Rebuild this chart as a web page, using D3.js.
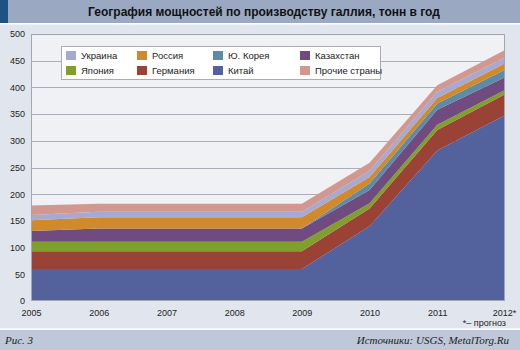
<!DOCTYPE html>
<html>
<head>
<meta charset="utf-8">
<script src="https://cdn.jsdelivr.net/npm/d3@7"></script>
<style>
  html, body { margin: 0; padding: 0; background: #e1e6ee; }
  svg { display: block; }
</style>
</head>
<body>
<svg id="chart" width="520" height="350"></svg>
<script>
// Gallium production capacity by country, tonnes per year
const years = ["2005", "2006", "2007", "2008", "2009", "2010", "2011", "2012*"];
const china      = [60, 60, 60, 60, 60, 140, 282, 348];
const germany    = [33, 33, 33, 33, 33, 33, 38, 39];
const japan      = [18, 18, 18, 18, 18, 10, 10, 8];
const kazakhstan = [20, 25, 25, 25, 25, 25, 28, 24];
const korea      = [0, 0, 0, 0, 0, 12, 12, 14];
const russia     = [20, 21, 21, 21, 21, 12, 10, 12];
const ukraine    = [10, 10, 10, 10, 10, 12, 12, 11];
const others     = [18, 15, 15, 15, 15, 15, 12, 14];
const yTicks = [0, 50, 100, 150, 200, 250, 300, 350, 400, 450, 500];

// stacking order, bottom to top
const series = [
  { key: "china",      name: "Китай",          color: "#53629c", values: china },
  { key: "germany",    name: "Германия",       color: "#9b4236", values: germany },
  { key: "japan",      name: "Япония",         color: "#819f2d", values: japan },
  { key: "kazakhstan", name: "Казахстан",      color: "#6f4b7f", values: kazakhstan },
  { key: "korea",      name: "Ю. Корея",       color: "#5b8ba5", values: korea },
  { key: "russia",     name: "Россия",         color: "#d08a2c", values: russia },
  { key: "ukraine",    name: "Украина",        color: "#a7a9d1", values: ukraine },
  { key: "others",     name: "Прочие страны",  color: "#d29890", values: others }
];
// legend layout order (two rows of four)
const legendOrder = ["ukraine", "russia", "korea", "kazakhstan",
                     "japan", "germany", "china", "others"];

const rows = years.map((y, i) => {
  const r = { year: y };
  series.forEach(s => r[s.key] = s.values[i]);
  return r;
});

const svg = d3.select("#chart");
const W = 520, H = 350;
const plot = { left: 31, right: 505, top: 34, bottom: 301 };
const font = "'Liberation Sans', Arial, Helvetica, sans-serif";
const serif = "'Liberation Serif', 'Times New Roman', serif";

// header bar
svg.append("rect").attr("x", 0).attr("y", 0).attr("width", W).attr("height", 23).attr("fill", "#9aa9c1");
svg.append("rect").attr("x", 0).attr("y", 0).attr("width", 8).attr("height", 23).attr("fill", "#1d5283");
svg.append("rect").attr("x", 0).attr("y", 23).attr("width", W).attr("height", 1.5).attr("fill", "#ffffff");
svg.append("text")
  .attr("x", 264).attr("y", 16)
  .attr("text-anchor", "middle")
  .attr("font-family", font).attr("font-weight", "bold").attr("font-size", 12)
  .attr("fill", "#111")
  .text("География мощностей по производству галлия, тонн в год");

// footer bar
svg.append("rect").attr("x", 0).attr("y", 328.5).attr("width", W).attr("height", 1.5).attr("fill", "#ffffff");
svg.append("rect").attr("x", 0).attr("y", 330).attr("width", W).attr("height", 20).attr("fill", "#bfc8d8");
svg.append("text")
  .attr("x", 5).attr("y", 344)
  .attr("font-family", serif).attr("font-style", "italic")
  .attr("font-size", 11).attr("fill", "#222")
  .text("Рис. 3");
svg.append("text")
  .attr("x", 509).attr("y", 344)
  .attr("text-anchor", "end")
  .attr("font-family", serif).attr("font-style", "italic")
  .attr("font-size", 11).attr("fill", "#222")
  .text("Источники: USGS, MetalTorg.Ru");

// scales
const x = d3.scalePoint().domain(years).range([plot.left, plot.right]);
const y = d3.scaleLinear().domain([0, 500]).range([plot.bottom, plot.top]);

// plot background
svg.append("rect")
  .attr("x", plot.left).attr("y", plot.top)
  .attr("width", plot.right - plot.left).attr("height", plot.bottom - plot.top)
  .attr("fill", "#eff1f5");

// horizontal grid
svg.append("g")
  .selectAll("line")
  .data(yTicks.filter(t => t > 0 && t < 500))
  .join("line")
  .attr("x1", plot.left).attr("x2", plot.right)
  .attr("y1", d => Math.round(y(d)) + 0.5).attr("y2", d => Math.round(y(d)) + 0.5)
  .attr("stroke", "#aaaeb8").attr("stroke-width", 1);

// stacked areas
const stack = d3.stack().keys(series.map(s => s.key));
const layers = stack(rows);
const area = d3.area()
  .x(d => x(d.data.year))
  .y0(d => y(d[0]))
  .y1(d => y(d[1]))
  .curve(d3.curveLinear);

svg.append("g")
  .selectAll("path")
  .data(layers)
  .join("path")
  .attr("d", area)
  .attr("fill", (d, i) => series[i].color);

// plot frame
svg.append("rect")
  .attr("x", plot.left + 0.5).attr("y", plot.top + 0.5)
  .attr("width", plot.right - plot.left - 1).attr("height", plot.bottom - plot.top - 1)
  .attr("fill", "none").attr("stroke", "#a3a7b2").attr("stroke-width", 1);

// y axis labels
const yAxis = d3.axisLeft(y).tickValues(yTicks).tickSize(0).tickPadding(6);
const gy = svg.append("g").attr("transform", `translate(${plot.left},0)`).call(yAxis);
gy.select(".domain").remove();
gy.selectAll("text").attr("font-family", font).attr("font-size", 9).attr("fill", "#222");

// x axis labels
const xAxis = d3.axisBottom(x).tickSize(0).tickPadding(9);
const gx = svg.append("g").attr("transform", `translate(0,${plot.bottom})`).call(xAxis);
gx.select(".domain").remove();
gx.selectAll("text").attr("font-family", font).attr("font-size", 9).attr("fill", "#222");
gx.selectAll(".tick").filter(d => d === "2012*").select("text")
  .attr("text-anchor", "middle").attr("dx", "-0.1em");

svg.append("text")
  .attr("x", 506).attr("y", 326)
  .attr("text-anchor", "end")
  .attr("font-family", font).attr("font-size", 9).attr("fill", "#222")
  .text("*– прогноз");

// legend
const lg = svg.append("g");
lg.append("rect")
  .attr("x", 61.5).attr("y", 46.5).attr("width", 319).attr("height", 33)
  .attr("fill", "#ffffff").attr("stroke", "#a9adb6").attr("stroke-width", 1);
const colX = [66, 137, 213, 300];
const rowY = [51, 66];
legendOrder.forEach((k, i) => {
  const s = series.find(d => d.key === k);
  const cx = colX[i % 4], cy = rowY[Math.floor(i / 4)];
  lg.append("rect").attr("x", cx).attr("y", cy).attr("width", 10).attr("height", 9).attr("fill", s.color);
  lg.append("text")
    .attr("x", cx + 15).attr("y", cy + 8)
    .attr("font-family", font).attr("font-size", 9.5).attr("fill", "#222")
    .text(s.name);
});
</script>
</body>
</html>
